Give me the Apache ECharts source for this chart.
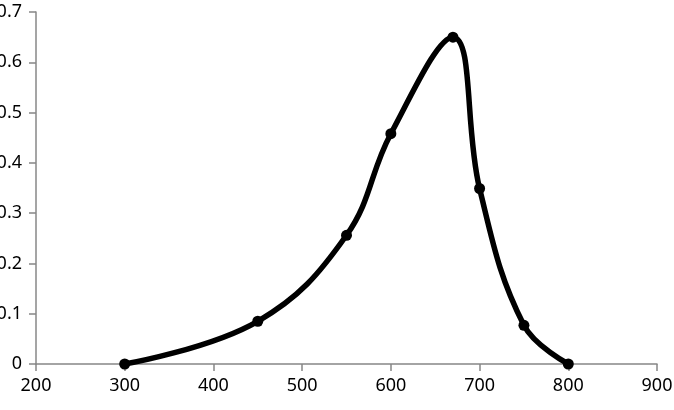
<!DOCTYPE html>
<html>
<head>
<meta charset="utf-8">
<script src="https://cdn.jsdelivr.net/npm/echarts@6/dist/echarts.min.js"></script>
<style>
html, body { margin: 0; padding: 0; background: #fff; }
#chart { width: 674px; height: 410px; }
</style>
</head>
<body>
<div id="chart"></div>
<script>
var xValues = [300, 450, 550, 600, 670, 700, 750, 800];
var yValues = [0, 0.085, 0.256, 0.458, 0.650, 0.349, 0.077, 0];

var points = [];
for (var i = 0; i < xValues.length; i++) {
    points.push([xValues[i], yValues[i]]);
}

var myChart = echarts.init(document.getElementById('chart'));
var lineCol = { color: '#878787', width: 1.5 };
var labelStyle = { color: '#000', fontSize: 18, fontFamily: 'Noto Sans' };

var option = {
    animation: false,
    grid: { left: 36, right: 17, top: 12, bottom: 46, containLabel: false, outerBoundsMode: 'none' },
    xAxis: {
        type: 'value',
        min: 200, max: 900, interval: 100,
        axisLine: { lineStyle: lineCol },
        axisTick: { show: true, length: 7, lineStyle: lineCol },
        axisLabel: Object.assign({ margin: 13 }, labelStyle),
        splitLine: { show: false }
    },
    yAxis: {
        type: 'value',
        min: 0, max: 0.7, interval: 0.1,
        axisLine: { show: true, lineStyle: lineCol },
        axisTick: { show: true, length: 7, lineStyle: lineCol },
        axisLabel: Object.assign({ margin: 14 }, labelStyle),
        splitLine: { show: false }
    },
    series: [{
        type: 'line',
        data: points,
        smooth: 0.4,
        symbol: 'circle',
        symbolSize: 11,
        itemStyle: { color: '#000' },
        lineStyle: { color: '#000', width: 5.5 }
    }]
};
myChart.setOption(option);
</script>
</body>
</html>
